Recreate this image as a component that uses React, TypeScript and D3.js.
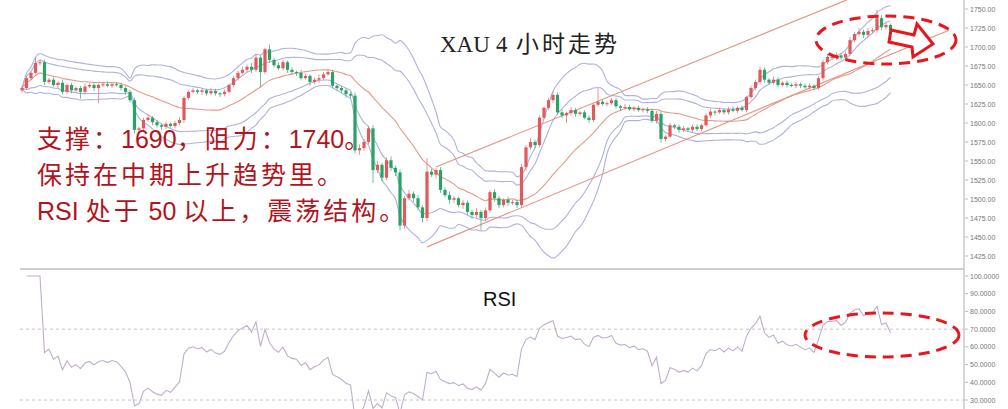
import React from "react";
import * as d3 from "d3";

const closes = [
  1646,1659,1666,1679,1680,1654,1657,1650,1653,1641,
  1650,1643,1646,1641,1648,1650,1646,1650,1651,1649,
  1651,1650,1646,1641,1630,1591,1593,1604,1607,1601,
  1597,1595,1599,1596,1600,1604,1633,1641,1643,1641,
  1643,1639,1642,1639,1638,1641,1650,1659,1666,1670,
  1674,1670,1686,1667,1697,1683,1676,1672,1680,1670,
  1667,1666,1659,1662,1654,1657,1659,1664,1667,1649,
  1646,1643,1638,1636,1564,1567,1575,1593,1538,1545,
  1528,1551,1541,1535,1465,1501,1507,1501,1489,1475,
  1536,1532,1538,1512,1505,1499,1501,1492,1495,1483,
  1479,1483,1475,1485,1509,1501,1492,1499,1495,1496,
  1492,1542,1568,1575,1571,1607,1620,1630,1637,1614,
  1610,1613,1617,1612,1614,1607,1604,1624,1628,1625,
  1626,1630,1622,1620,1621,1618,1620,1617,1618,1616,
  1603,1612,1579,1582,1597,1595,1591,1593,1591,1595,
  1592,1597,1610,1615,1614,1617,1614,1618,1616,1620,
  1617,1634,1646,1654,1670,1657,1653,1657,1650,1653,
  1650,1649,1651,1649,1647,1649,1646,1659,1680,1687,
  1687,1689,1686,1691,1709,1717,1720,1716,1721,1722,
  1738,1726,1729,1722,
];
const firstOpen = 1643;
const upWick = [
  2,3,2,8,4,3,2,3,2,4, 2,3,2,3,4,2,3,2,3,4, 2,3,3,2,3,3,2,3,4,2,
  3,2,3,2,3,4,3,2,3,2, 3,2,4,3,2,3,2,3,3,4, 3,5,4,3,2,6,3,4,3,2,
  3,2,4,3,2,3,5,3,4,3, 2,3,2,3,4,5,4,3,4,5, 3,4,5,3,4,3,5,3,4,3,
  18,4,3,4,3,5,3,2,4,3, 3,5,3,4,3,4,3,2,4,3, 3,4,3,5,3,3,2,3,4,3,
  3,2,4,3,2,3,3,2,18,3, 2,3,3,2,4,3,2,3,2,3, 3,4,3,2,3,2,3,3,2,3,
  3,2,3,4,2,3,2,3,4,2, 3,2,3,3,4,3,2,4,3,2, 3,2,3,2,3,3,2,3,3,4,
  3,4,3,3,4,3,5,3,4,3, 11,4,3,2,
];
const dnWick = [
  3,2,3,2,3,4,3,2,4,3, 3,4,3,9,3,2,4,20,3,2, 3,2,3,4,3,5,6,3,2,4,
  3,4,3,2,3,3,4,3,2,3, 4,3,2,3,4,3,2,3,3,2, 3,4,3,20,3,4,3,2,3,4,
  3,4,3,2,5,3,4,3,2,3, 4,3,5,3,4,6,4,3,17,4, 5,3,4,5,6,4,3,5,4,6,
  4,3,5,4,3,5,4,3,5,4, 5,3,16,4,3,5,4,3,4,3, 4,3,5,3,4,3,2,3,4,3,
  4,10,3,4,3,2,4,3,3,2, 3,2,3,4,3,2,3,2,3,3, 3,4,5,3,2,3,4,3,2,3,
  3,3,2,3,4,2,3,3,2,3, 2,3,2,3,3,4,3,2,3,2, 3,2,3,3,2,3,3,2,3,3,
  3,4,3,3,2,3,3,4,3,3, 3,4,3,3,
];

const priceTicks = [1425,1450,1475,1500,1525,1550,1575,1600,1625,1650,1675,1700,1725,1750];
const rsiTicks = [30,40,50,60,70,80,90,100];
const rsiGuides = [70, 30];
const channelLower = [{ i: 90, p: 1437 }, { i: 206, p: 1722 }];
const channelUpper = [{ i: 92, p: 1542 }, { i: 183.3, p: 1762 }];

const title = ["XAU", "4", "小时走势"];
const notes = ["支撑：1690，阻力：1740。", "保持在中期上升趋势里。", "RSI 处于 50 以上，震荡结构。"];
const rsiLabel = "RSI";

const BB_N = 20;
const RSI_N = 14;

function bands(k: number) {
  return closes.map((_, i) => {
    const w = closes.slice(Math.max(0, i - BB_N + 1), i + 1);
    const m = d3.mean(w)!;
    const sd = Math.sqrt(d3.mean(w.map((v) => (v - m) ** 2))!);
    return { i, mid: m, up: m + k * sd, lo: m - k * sd };
  });
}

function rsi() {
  const out: { i: number; v: number }[] = [];
  let ag = 0, al = 0;
  for (let i = 1; i < closes.length; i++) {
    const d = closes[i] - closes[i - 1];
    const g = Math.max(d, 0), l = Math.max(-d, 0);
    if (i <= RSI_N) {
      ag = (ag * (i - 1) + g) / i;
      al = (al * (i - 1) + l) / i;
    } else {
      ag = (ag * (RSI_N - 1) + g) / RSI_N;
      al = (al * (RSI_N - 1) + l) / RSI_N;
    }
    const v = al === 0 ? 100 : 100 - 100 / (1 + ag / al);
    out.push({ i, v });
  }
  return out;
}

function segments(s: string) {
  return s.split(/([\u0000-\u00ff]+)/).filter((p) => p.length > 0);
}

export default function App() {
  const W = 1008, H = 409;
  const x = d3.scaleLinear().domain([0, closes.length - 1]).range([22, 890.5]);
  const y = d3.scaleLinear().domain([1425, 1750]).range([256, 9]);
  const yr = d3.scaleLinear().domain([30, 100]).range([400, 276]);

  const b2 = bands(2);
  const b1 = bands(1.3);
  const lineOf = (acc: (d: any) => number) =>
    d3.line<any>().x((d) => x(d.i)).y((d) => y(acc(d))).curve(d3.curveMonotoneX);
  const rsiData = rsi();
  const rsiLine = d3.line<any>().x((d) => x(d.i)).y((d) => yr(d.v));

  const candles = closes.map((c, i) => {
    const o = i === 0 ? firstOpen : closes[i - 1];
    return { i, o, c, h: Math.max(o, c) + upWick[i], l: Math.min(o, c) - dnWick[i] };
  });

  const bandColor = "#aeb2dc";
  const red = "#e8171d";
  const textRed = "#b3141c";

  return (
    <svg width={W} height={H} style={{ position: "absolute", left: 0, top: 0, background: "#fff" }}
      fontFamily="Liberation Sans, Arial, sans-serif">
      <rect width={W} height={H} fill="#fff" />
      {[b2, b1].map((b, k) => (
        <g key={k} fill="none" stroke={bandColor} strokeWidth={1.1}>
          <path d={lineOf((d) => d.up)(b)!} />
          <path d={lineOf((d) => d.lo)(b)!} />
        </g>
      ))}
      <path d={lineOf((d) => d.mid)(b2)!} fill="none" stroke="#e59a8c" strokeWidth={1.1} />
      {[channelLower, channelUpper].map((c, k) => (
        <line key={k} x1={x(c[0].i)} y1={y(c[0].p)} x2={x(c[1].i)} y2={y(c[1].p)} stroke="#e49384" strokeWidth={1.1} />
      ))}
      {candles.map((d) => {
        const up = d.c >= d.o;
        const col = up ? "#df5a5a" : "#2aa267";
        const top = y(Math.max(d.o, d.c));
        const bot = y(Math.min(d.o, d.c));
        return (
          <g key={d.i}>
            <line x1={x(d.i)} x2={x(d.i)} y1={y(d.h)} y2={y(d.l)} stroke={up ? "#d98080" : "#5aa985"} strokeWidth={0.8} />
            <rect x={x(d.i) - 1.6} width={3.2} y={top} height={Math.max(1, bot - top)} fill={col} />
          </g>
        );
      })}
      <line x1={964} x2={964} y1={0} y2={H} stroke="#c9c9c9" strokeWidth={1.5} />
      <line x1={20} x2={964} y1={269} y2={269} stroke="#cfcfcf" strokeWidth={2} />
      {priceTicks.map((t) => (
        <g key={t}>
          <line x1={965} x2={968} y1={y(t)} y2={y(t)} stroke="#bbb" />
          <text x={970} y={y(t) + 2.5} fontSize={7} fill="#777">{t.toFixed(2)}</text>
        </g>
      ))}
      {rsiTicks.map((t) => (
        <g key={t}>
          <line x1={965} x2={968} y1={yr(t)} y2={yr(t)} stroke="#bbb" />
          <text x={970} y={yr(t) + 2.5} fontSize={7} fill="#777">{t.toFixed(4)}</text>
        </g>
      ))}
      {rsiGuides.map((g) => (
        <line key={g} x1={20} x2={964} y1={yr(g)} y2={yr(g)} stroke="#c4c4c4" strokeDasharray="3,3" />
      ))}
      <path d={rsiLine(rsiData)!} fill="none" stroke="#c0aecb" strokeWidth={1.1} />
      <text y={52} fontSize={23} fill="#222">
        <tspan x={440} fontFamily="Liberation Serif, serif">{title[0]}</tspan>
        <tspan x={496} fontFamily="Liberation Serif, serif">{title[1]}</tspan>
        <tspan x={516} fontFamily="Noto Sans CJK SC" letterSpacing={3}>{title[2]}</tspan>
      </text>
      <text x={483} y={306} fontSize={20} fill="#111">{rsiLabel}</text>
      <g fill={textRed} fontSize={25} fontFamily="Liberation Sans, Noto Sans CJK SC, sans-serif">
        {notes.map((n, k) => (
          <text key={k} x={37} y={148 + k * 36}>
            {segments(n).map((s, j) => (
              <tspan key={j} letterSpacing={/^[\u0000-\u00ff]+$/.test(s) ? 0 : 3}>{s}</tspan>
            ))}
          </text>
        ))}
      </g>
      <ellipse cx={886} cy={40} rx={70} ry={24} fill="none" stroke={red} strokeWidth={3} strokeDasharray="11,7" />
      <ellipse cx={882} cy={335} rx={77} ry={22} fill="none" stroke={red} strokeWidth={3} strokeDasharray="11,7" />
      <path d="M891,30 L914,35 L917,24 L933,44 L913,57 L912,47 L889,42 Z" fill="#fff" stroke={red} strokeWidth={3} strokeLinejoin="miter" />
    </svg>
  );
}
